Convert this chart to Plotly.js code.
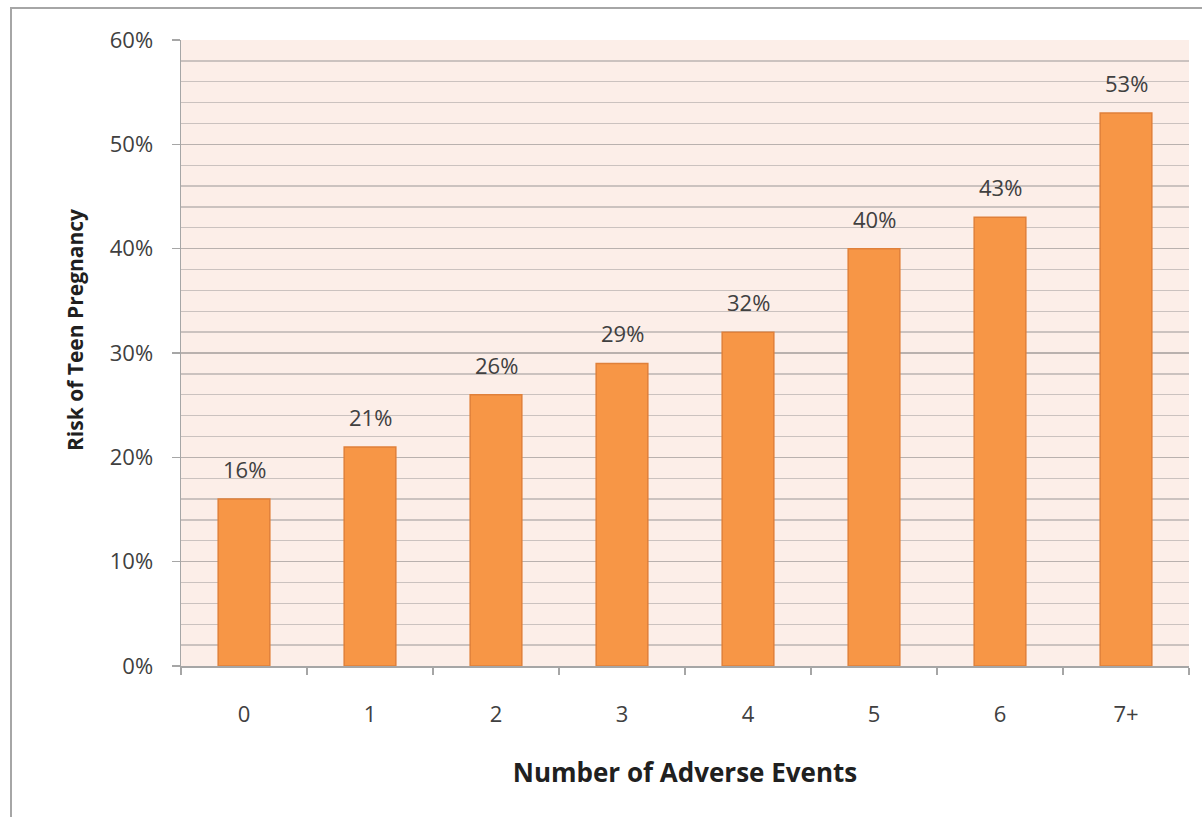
<!DOCTYPE html>
<html><head><meta charset="utf-8">
<script src="https://cdn.plot.ly/plotly-3.0.1.min.js"></script>
<style>
body{margin:0;background:#fff;}
#frame{position:absolute;left:10px;top:7px;width:1192px;height:810px;border-left:2px solid #a6a6a6;border-top:2px solid #a6a6a6;box-sizing:border-box;}
#chart{position:absolute;left:0;top:0;width:1202px;height:817px;}
</style></head>
<body>
<div id="frame"></div>
<div id="chart"></div>
<script>
var categories = ['0','1','2','3','4','5','6','7+'];
var risk = [0.16,0.21,0.26,0.29,0.32,0.40,0.43,0.53];
var labels = ['16%','21%','26%','29%','32%','40%','43%','53%'];

var font = 'Open Sans, DejaVu Sans, sans-serif';
var trace = {
  type:'bar', x:categories, y:risk,
  marker:{color:'#F79646',line:{color:'#E0803A',width:1.5}},
  width:0.41, hoverinfo:'none'
};
var annotations = categories.map(function(c,i){
  return {x:c, y:risk[i], xref:'x', yref:'y', text:labels[i], showarrow:false,
    yanchor:'bottom', yshift:13, font:{family:font,size:22,color:'#404040'}};
});
annotations.push({xref:'paper', yref:'paper', x:0, y:0.5, xshift:-106, yshift:23,
  xanchor:'center', yanchor:'middle', textangle:-90, showarrow:false,
  text:'<b>Risk of Teen Pregnancy</b>', font:{family:font,size:21,color:'#202020'}});
var layout = {
  width:1202, height:817,
  margin:{l:181,r:13,t:40,b:151},
  paper_bgcolor:'rgba(0,0,0,0)', plot_bgcolor:'#FCEEE8',
  showlegend:false,
  annotations:annotations,
  xaxis:{type:'category', tickson:'boundaries', ticks:'outside', ticklen:7, tickcolor:'#a6a6a6', tickwidth:1.5,
    showline:true, linecolor:'#a6a6a6', linewidth:1.5, showgrid:false,
    tickfont:{family:font,size:22,color:'#404040'}, ticklabelstandoff:28,
    title:{text:'<b>Number of Adverse Events</b>', font:{family:font,size:26,color:'#202020'}, standoff:37}},
  yaxis:{range:[0,0.6], dtick:0.1, tickformat:'.0%', ticks:'outside', ticklen:8, tickcolor:'#a6a6a6', tickwidth:1.5,
    showline:true, linecolor:'#a6a6a6', linewidth:1.5,
    gridcolor:'#b9b1ae', gridwidth:1.3, zeroline:false,
    minor:{dtick:0.02, showgrid:true, gridcolor:'#cbc2bf', gridwidth:1.3},
    tickfont:{family:font,size:22,color:'#404040'}, ticklabelstandoff:14}
};
Plotly.newPlot('chart',[trace],layout,{displayModeBar:false,staticPlot:true});
</script>
</body></html>
